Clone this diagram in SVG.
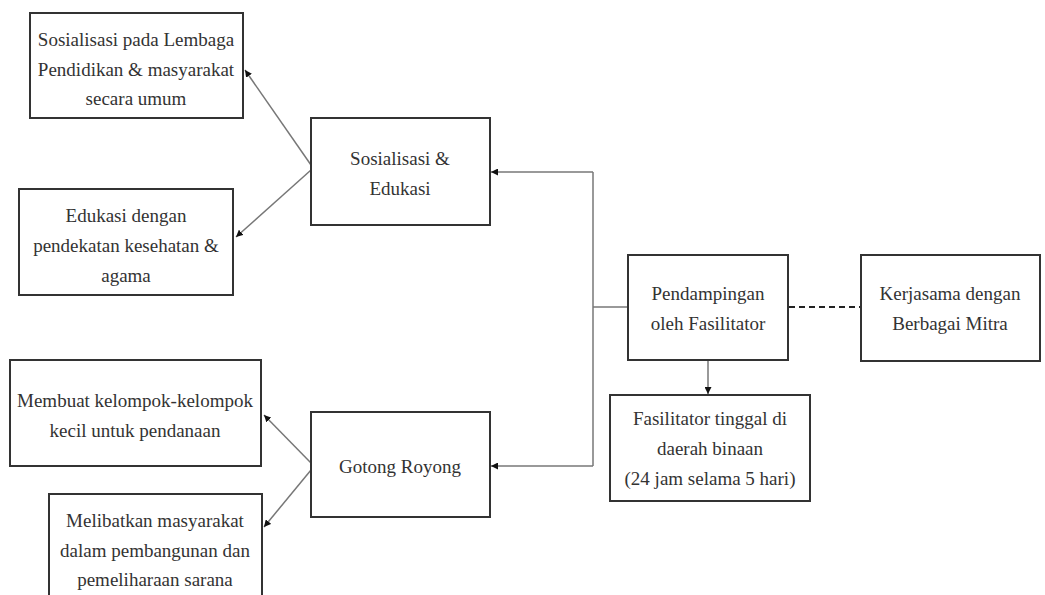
<svg xmlns="http://www.w3.org/2000/svg" width="1045" height="595" viewBox="0 0 1045 595">
<style>
.box{fill:#fff;stroke:#333;stroke-width:2}
.t{font-size:19px;fill:#333;text-anchor:middle}
.c{fill:none;stroke:#777;stroke-width:1.5}
.d{fill:none;stroke:#222;stroke-width:2;stroke-dasharray:6,4}
</style>
<defs>
<marker id="ah" viewBox="0 0 10 10" refX="10" refY="5" markerWidth="7" markerHeight="7" orient="auto" markerUnits="userSpaceOnUse">
<path d="M0,0 L10,5 L0,10 z" fill="#111"/>
</marker>
</defs>
<rect width="1045" height="595" fill="#fff"/>
<g id="connectors">
<path class="c" d="M311,165 L245,70" marker-end="url(#ah)"/>
<path class="c" d="M311,170 L236,237" marker-end="url(#ah)"/>
<path class="c" d="M311,463 L264,415" marker-end="url(#ah)"/>
<path class="c" d="M311,470 L264,527" marker-end="url(#ah)"/>
<path class="c" d="M628,307 L593,307"/>
<path class="c" d="M593,172 L593,466"/>
<path class="c" d="M593,172 L491,172" marker-end="url(#ah)"/>
<path class="c" d="M593,466 L491,466" marker-end="url(#ah)"/>
<path class="c" d="M708,360 L708,394" marker-end="url(#ah)"/>
<path class="d" d="M789,307 L861,307"/>
</g>
<g id="nodes" font-family="Liberation Serif">
<g id="n1"><rect class="box" x="30" y="13" width="213" height="105"/>
<text class="t" x="136" y="46">Sosialisasi pada Lembaga</text>
<text class="t" x="136" y="76">Pendidikan &amp; masyarakat</text>
<text class="t" x="136" y="105">secara umum</text></g>
<g id="n2"><rect class="box" x="19" y="189" width="214" height="106"/>
<text class="t" x="126" y="222">Edukasi dengan</text>
<text class="t" x="126" y="252">pendekatan kesehatan &amp;</text>
<text class="t" x="126" y="282">agama</text></g>
<g id="n3"><rect class="box" x="311" y="118" width="179" height="107"/>
<text class="t" x="400" y="165">Sosialisasi &amp;</text>
<text class="t" x="400" y="195">Edukasi</text></g>
<g id="n4"><rect class="box" x="10" y="360" width="251" height="106"/>
<text class="t" x="135" y="407">Membuat kelompok-kelompok</text>
<text class="t" x="135" y="437">kecil  untuk pendanaan</text></g>
<g id="n5"><rect class="box" x="49" y="494" width="213" height="110"/>
<text class="t" x="155" y="527">Melibatkan  masyarakat</text>
<text class="t" x="155" y="557">dalam pembangunan dan</text>
<text class="t" x="155" y="586">pemeliharaan  sarana</text></g>
<g id="n6"><rect class="box" x="311" y="412" width="179" height="105"/>
<text class="t" x="400" y="473">Gotong Royong</text></g>
<g id="n7"><rect class="box" x="628" y="255" width="160" height="105"/>
<text class="t" x="708" y="300">Pendampingan</text>
<text class="t" x="708" y="330">oleh Fasilitator</text></g>
<g id="n8"><rect class="box" x="861" y="255" width="179" height="106"/>
<text class="t" x="950" y="300">Kerjasama dengan</text>
<text class="t" x="950" y="330">Berbagai Mitra</text></g>
<g id="n9"><rect class="box" x="610" y="395" width="200" height="106"/>
<text class="t" x="710" y="425">Fasilitator  tinggal  di</text>
<text class="t" x="710" y="455">daerah binaan</text>
<text class="t" x="710" y="485">(24 jam selama 5 hari)</text></g>
</g>
</svg>
